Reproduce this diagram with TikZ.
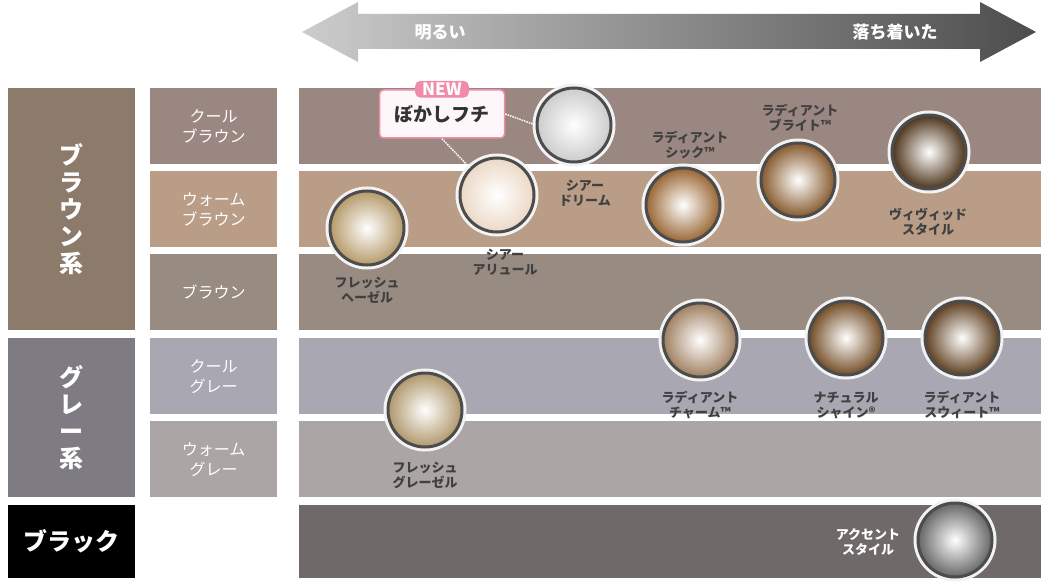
\documentclass[tikz,border=0pt]{standalone}
\usepackage{fontspec}
\setmainfont{Noto Sans CJK JP}
\usetikzlibrary{positioning}
\definecolor{coolbr}{HTML}{9B8781}
\definecolor{warmbr}{HTML}{B99D86}
\definecolor{plainbr}{HTML}{988B82}
\definecolor{coolgr}{HTML}{A9A7B1}
\definecolor{warmgr}{HTML}{ABA5A5}
\definecolor{brcat}{HTML}{8C7A6B}
\definecolor{grcat}{HTML}{7E7C82}
\definecolor{blkrow}{HTML}{6F6A69}
\definecolor{newpink}{HTML}{F08CA8}
\definecolor{hazel}{HTML}{B59A6A}
\begin{document}
\begin{tikzpicture}[x=1pt,y=-1pt,
cat/.style={anchor=north west, inner sep=0, text=white, font=\fontsize{24}{27}\selectfont\bfseries, align=center},
sub/.style={anchor=north west, inner sep=0, minimum width=127pt, minimum height=76pt, text=white, font=\fontsize{16}{20}\selectfont, align=center},
band/.style={anchor=north west, inner sep=0, minimum width=742pt, minimum height=76pt},
lens/.style={circle, minimum size=74pt, inner sep=0, inner color=white, outer color=#1, draw=black!70, line width=3pt, preaction={draw=white!90!gray, line width=9pt}},
lab/.style={font=\fontsize{13}{15}\selectfont\bfseries, text=black!75, align=center, inner sep=0}]
\useasboundingbox (0,0) rectangle (1046,588);
% arrow
\shade[left color=black!20, right color=black!70] (302,32) -- (358,2) -- (358,14) -- (980,14) -- (980,2) -- (1036,32) -- (980,62) -- (980,49) -- (358,49) -- (358,62) -- cycle;
\node[text=white, font=\fontsize{17}{19}\selectfont\bfseries] (bright) at (440,32) {明るい};
\node[text=white, font=\fontsize{17}{19}\selectfont\bfseries] (calm) at (895,32) {落ち着いた};
% categories
\node[cat, fill=brcat, minimum width=127pt, minimum height=242pt] (brown) at (8,88) {ブ\\ラ\\ウ\\ン\\系};
\node[cat, fill=grcat, minimum width=127pt, minimum height=159pt] (gray) at (8,338) {グ\\レ\\ー\\系};
\node[cat, fill=black, minimum width=127pt, minimum height=73pt] (black) at (8,505) {ブラック};
% sub rows
\node[sub, fill=coolbr] (cb) at (150,88) {クール\\ブラウン};
\node[sub, fill=warmbr] (wb) at (150,171) {ウォーム\\ブラウン};
\node[sub, fill=plainbr] (pb) at (150,254) {ブラウン};
\node[sub, fill=coolgr] (cg) at (150,338) {クール\\グレー};
\node[sub, fill=warmgr] (wg) at (150,421) {ウォーム\\グレー};
% bands
\node[band, fill=coolbr] (cbband) at (299,88) {};
\node[band, fill=warmbr] (wbband) at (299,171) {};
\node[band, fill=plainbr] (pbband) at (299,254) {};
\node[band, fill=coolgr] (cgband) at (299,338) {};
\node[band, fill=warmgr] (wgband) at (299,421) {};
\node[band, fill=blkrow, minimum height=73pt] (bkband) at (299,505) {};
% callout
\node[draw=newpink, line width=1.5pt, fill=white!93!newpink, rounded corners=4pt, minimum width=125pt, minimum height=48pt, font=\fontsize{19}{21}\selectfont\bfseries, text=black!80] (fuchi) at (442,114) {ぼかしフチ};
\node[fill=newpink, text=white, rounded corners=5pt, font=\fontsize{17}{18}\selectfont\bfseries, inner xsep=7pt, inner ysep=2pt] (new) at (fuchi.north) {NEW};
% lenses
\node[lens=hazel] (fh) at (367,228) {};
\node[lens=brown!30!white] (sa) at (497,195) {};
\node[lens=gray!40] (sd) at (574,125) {};
\node[lens=brown!80!black] (rc) at (683,205) {};
\node[lens=brown!70!black] (rb) at (798,180) {};
\node[lens=brown!40!black] (vs) at (929,152) {};
\node[lens=brown!50!gray] (rch) at (700,340) {};
\node[lens=brown!60!black] (ns) at (846,338) {};
\node[lens=brown!50!black] (rs) at (962,338) {};
\node[lens=hazel!90!gray] (fg) at (425,410) {};
\node[lens=black!60] (as) at (955,540) {};
\draw[densely dotted, white, line width=1.5pt] (fuchi.east) -- (sd.west);
\draw[densely dotted, white, line width=1.5pt] (fuchi.south) -- (sa.north west);
% labels
\node[lab] (fhl) at (367,290) {フレッシュ\\ヘーゼル};
\node[lab] (sal) at (505,262) {シアー\\アリュール};
\node[lab] (sdl) at (585,193) {シアー\\ドリーム};
\node[lab] (rcl) at (690,145) {ラディアント\\シック™};
\node[lab] (rbl) at (800,118) {ラディアント\\ブライト™};
\node[lab] (vsl) at (928,222) {ヴィヴィッド\\スタイル};
\node[lab] (rchl) at (700,405) {ラディアント\\チャーム™};
\node[lab] (nsl) at (846,405) {ナチュラル\\シャイン®};
\node[lab] (rsl) at (962,405) {ラディアント\\スウィート™};
\node[lab] (fgl) at (425,475) {フレッシュ\\グレーゼル};
\node[lab, text=white] (asl) at (868,542) {アクセント\\スタイル};
\end{tikzpicture}
\end{document}
